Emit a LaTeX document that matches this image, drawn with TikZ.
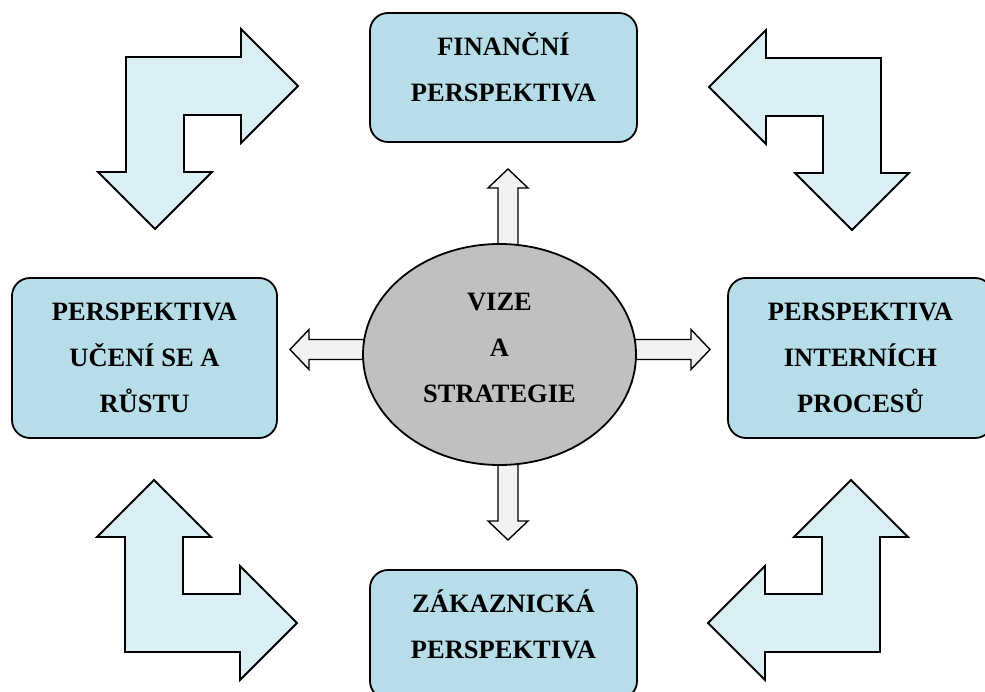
\documentclass[tikz,border=0pt]{standalone}
\usepackage{fontspec}
\setmainfont{Liberation Serif}
\usetikzlibrary{shapes.geometric}

\definecolor{boxblue}{RGB}{183,221,232}
\definecolor{bendblue}{RGB}{218,238,243}
\definecolor{vizegray}{RGB}{192,192,192}
\definecolor{tipgray}{RGB}{242,242,242}

\tikzset{
  persp/.style={draw, line width=1.8pt, fill=boxblue, rounded corners=18pt, align=center, inner sep=0pt,
    font=\fontsize{26.5}{46}\selectfont\bfseries},
  bendarrow/.pic={\draw[line width=1.8pt, fill=bendblue] (-29,-29) -- (86,-29) -- (86,-57) -- (143,0) -- (86,57) -- (86,29)
    -- (29,29) -- (29,86) -- (57,86) -- (0,143) -- (-57,86) -- (-29,86) -- cycle;},
  tiparrow/.pic={\draw[line width=1.4pt, fill=tipgray] (0,-10) -- (61,-10) -- (61,-20) -- (80,0) -- (61,20) -- (61,10) -- (0,10) -- cycle;}
}

\begin{document}
\begin{tikzpicture}[x=1pt, y=-1pt]
  \useasboundingbox (0,0) rectangle (985,692);
  \clip (0,0) rectangle (985,692);

  \pic at (155,86) {bendarrow};
  \pic[xscale=-1] at (852,87) {bendarrow};
  \pic[yscale=-1] at (154,623) {bendarrow};
  \pic[xscale=-1, yscale=-1] at (851,623) {bendarrow};

  \node[persp, minimum width=267pt, minimum height=129pt, text depth=21pt] (financni) at (503.5,77.5) {FINANČNÍ\\PERSPEKTIVA};
  \node[persp, minimum width=267pt, minimum height=129pt, text depth=21pt] (zakaznicka) at (503.5,634.5) {ZÁKAZNICKÁ\\PERSPEKTIVA};
  \node[persp, minimum width=265pt, minimum height=160pt] (uceni) at (144.5,358) {PERSPEKTIVA\\UČENÍ SE A\\RŮSTU};
  \node[persp, minimum width=265pt, minimum height=160pt] (interni) at (860.5,358) {PERSPEKTIVA\\INTERNÍCH\\PROCESŮ};

  \pic[rotate=90] at (508,249) {tiparrow};
  \pic[rotate=-90] at (508,460) {tiparrow};
  \pic[rotate=180] at (370,349.5) {tiparrow};
  \pic at (630,349.5) {tiparrow};

  \node[draw, ellipse, line width=1.8pt, fill=vizegray, minimum width=273pt, minimum height=221pt, inner sep=0pt,
    align=center, text depth=14pt, font=\fontsize{26.5}{46}\selectfont\bfseries] (vize) at (499.5,354.5) {VIZE\\A\\STRATEGIE};
\end{tikzpicture}
\end{document}
